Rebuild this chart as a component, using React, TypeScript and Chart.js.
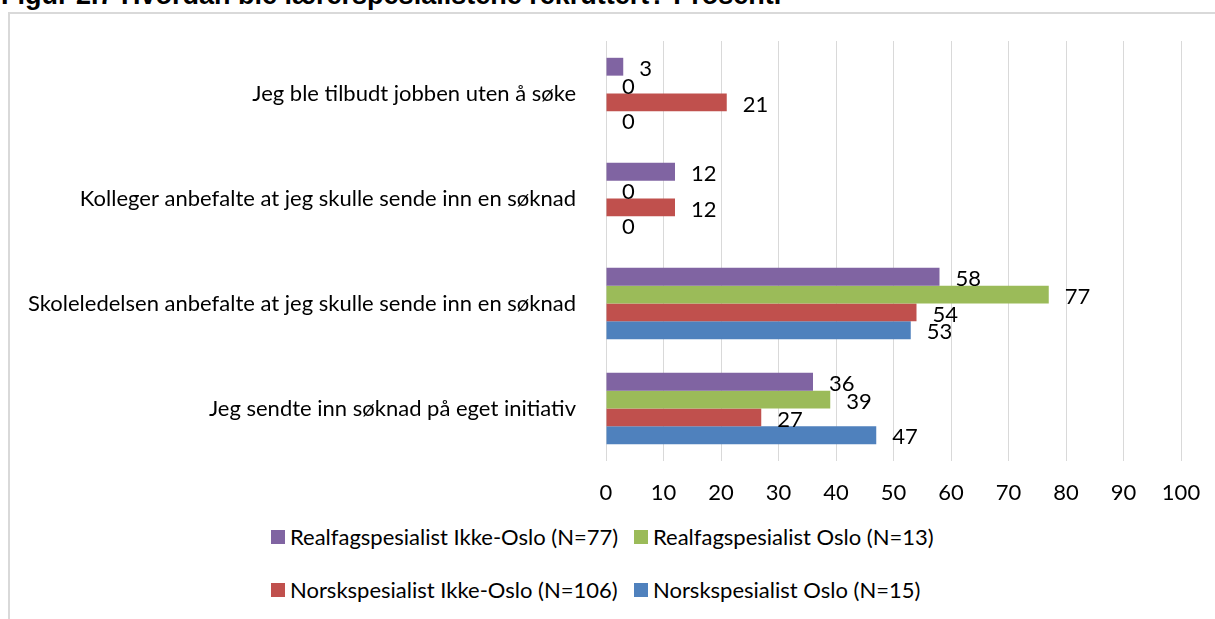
import React, { useEffect, useRef } from "react";
import { Chart, registerables } from "chart.js";

Chart.register(...registerables);

const categories = [
  "Jeg ble tilbudt jobben uten å søke",
  "Kolleger anbefalte at jeg skulle sende inn en søknad",
  "Skoleledelsen anbefalte at jeg skulle sende inn en søknad",
  "Jeg sendte inn søknad på eget initiativ",
];

const seriesNames = [
  "Realfagspesialist Ikke-Oslo (N=77)",
  "Realfagspesialist Oslo (N=13)",
  "Norskspesialist Ikke-Oslo (N=106)",
  "Norskspesialist Oslo (N=15)",
];

const realfagIkkeOslo = [3, 12, 58, 36];
const realfagOslo = [0, 0, 77, 39];
const norskIkkeOslo = [21, 12, 54, 27];
const norskOslo = [0, 0, 53, 47];

const seriesColors = ["#8064A2", "#9BBB59", "#C0504D", "#4F81BD"];

const xTicks = [0, 10, 20, 30, 40, 50, 60, 70, 80, 90, 100];

const FONT = "Lato, 'Open Sans', sans-serif";
const FSIZE = 22;

const valueLabels = {
  id: "valueLabels",
  afterDatasetsDraw(chart: any) {
    const ctx = chart.ctx;
    ctx.save();
    ctx.font = `${FSIZE}px ${FONT}`;
    ctx.fillStyle = "#000";
    ctx.textBaseline = "middle";
    ctx.textAlign = "left";
    chart.data.datasets.forEach((ds: any, di: number) => {
      const meta = chart.getDatasetMeta(di);
      meta.data.forEach((el: any, i: number) => {
        ctx.fillText(String(ds.data[i]), el.x + 16, el.y + 2);
      });
    });
    ctx.restore();
  },
};

export default function App() {
  const ref = useRef<HTMLCanvasElement>(null);
  useEffect(() => {
    const values = [realfagIkkeOslo, realfagOslo, norskIkkeOslo, norskOslo];
    const chart = new Chart(ref.current!, {
      type: "bar",
      data: {
        labels: categories,
        datasets: values.map((v, i) => ({
          label: seriesNames[i],
          data: v,
          backgroundColor: seriesColors[i],
          borderWidth: 0,
          categoryPercentage: 0.68,
          barPercentage: 1,
        })),
      },
      options: {
        indexAxis: "y",
        responsive: false,
        animation: false,
        layout: { padding: { top: 27, right: 20, left: 0, bottom: 0 } },
        plugins: { legend: { display: false }, tooltip: { enabled: false } },
        scales: {
          x: {
            min: 0,
            max: 100,
            afterBuildTicks: (s: any) => {
              s.ticks = xTicks.map((v) => ({ value: v }));
            },
            afterFit: (s: any) => {
              s.height = 60;
              s.paddingLeft = 0;
              s.paddingRight = 0;
            },
            grid: { color: "#d9d9d9", lineWidth: 1, drawTicks: false },
            border: { display: false },
            ticks: { padding: 19, color: "#000", font: { family: FONT, size: FSIZE } },
          },
          y: {
            afterFit: (s: any) => {
              s.width = 596;
              s.paddingTop = 0;
              s.paddingBottom = 0;
            },
            grid: { display: false },
            border: { display: false },
            ticks: { padding: 22, color: "#000", font: { family: FONT, size: FSIZE } },
          },
        },
      },
      plugins: [valueLabels],
    });
    return () => chart.destroy();
  }, []);

  const legendItem = (i: number, left: number, top: number) => (
    <div
      key={i}
      style={{
        position: "absolute",
        left,
        top,
        display: "flex",
        alignItems: "center",
        fontFamily: FONT,
        fontSize: FSIZE,
        color: "#000",
        whiteSpace: "nowrap",
        lineHeight: "26px",
      }}
    >
      <span style={{ width: 14, height: 14, background: seriesColors[i], marginRight: 5, display: "inline-block" }} />
      {seriesNames[i]}
    </div>
  );

  return (
    <div style={{ position: "fixed", left: 0, top: 0, width: 1215, height: 619, overflow: "hidden", background: "#fff" }}>
      <div
        style={{
          position: "absolute",
          left: 1,
          top: -20,
          fontFamily: "'Liberation Sans', Arial, sans-serif",
          fontWeight: "bold",
          fontSize: 27,
          whiteSpace: "nowrap",
          color: "#000",
        }}
      >
        Figur 2.7 Hvordan ble lærerspesialistene rekruttert? Prosent.
      </div>
      <div
        style={{
          position: "absolute",
          left: 8,
          top: 12,
          width: 1300,
          height: 700,
          border: "2px solid #d9d9d9",
          boxSizing: "border-box",
        }}
      />
      <div style={{ position: "absolute", left: 10, top: 14 }}>
        <canvas ref={ref} width={1191} height={507} style={{ display: "block" }} />
      </div>
      {legendItem(0, 271, 524)}
      {legendItem(1, 634, 524)}
      {legendItem(2, 271, 577)}
      {legendItem(3, 634, 577)}
    </div>
  );
}
